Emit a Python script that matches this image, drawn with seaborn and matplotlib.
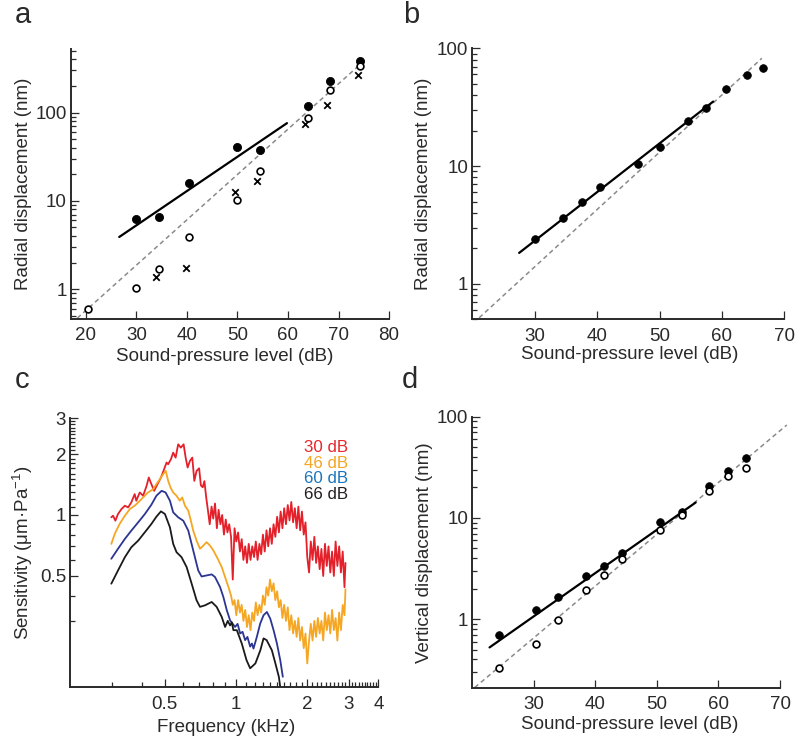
import numpy as np
import pandas as pd
import matplotlib
matplotlib.use('Agg')
import matplotlib.pyplot as plt
from matplotlib.ticker import FixedLocator, NullFormatter
import seaborn as sns

# ---------------- data ----------------
# panel a: radial displacement vs SPL
a_filled_spl = [30, 34.5, 40.5, 50, 54.5, 64, 68.3, 74.3]
a_filled_nm = [6.25, 6.6, 15.9, 40.9, 37.5, 117, 229, 385]
a_open_spl = [20.5, 29.9, 34.5, 40.5, 50, 54.4, 63.9, 68.3, 74.3]
a_open_nm = [0.6, 1.04, 1.68, 3.88, 10.3, 22, 86.5, 181, 332]
a_cross_spl = [33.8, 39.9, 49.5, 53.9, 63.3, 67.8, 73.8]
a_cross_nm = [1.37, 1.73, 12.7, 16.9, 74.5, 121, 265]
a_fit_spl = [26.6, 59.8]
a_fit_nm = [3.9, 75.8]
a_ref_spl = [18.3, 75.3]
a_ref_nm = [0.47, 395]

# panel b
b_spl = [30.1, 34.5, 37.5, 40.5, 46.5, 50.1, 54.5, 57.4, 60.6, 64.0, 66.6]
b_nm = [2.41, 3.62, 5.0, 6.6, 10.5, 14.6, 24.2, 31.2, 44.9, 59.7, 68.5]
b_fit_spl = [27.5, 58.6]
b_fit_nm = [1.83, 35.3]
b_ref_spl = [21.1, 66.4]
b_ref_nm = [0.515, 82.3]

# panel d: vertical displacement
d_spl = [24.4, 30.4, 34.0, 38.5, 41.4, 44.4, 50.5, 54.0, 58.5, 61.5, 64.5]
d_filled_nm = [0.69, 1.24, 1.65, 2.66, 3.38, 4.51, 9.06, 11.4, 20.8, 29.3, 38.8]
d_open_nm = [0.325, 0.567, 0.98, 1.95, 2.72, 3.96, 7.67, 10.6, 18.4, 26.0, 31.2]
d_fit_spl = [22.8, 56.3]
d_fit_nm = [0.525, 14.2]
d_ref_spl = [20.4, 71.1]
d_ref_nm = [0.211, 82.8]

# panel c: sensitivity spectra (kHz, um/Pa)
c30_f = [0.298, 0.303, 0.31, 0.318, 0.329, 0.34, 0.351, 0.362, 0.374, 0.38, 0.393, 0.406,
         0.42, 0.429, 0.44, 0.452, 0.467, 0.483, 0.498, 0.51, 0.518, 0.532, 0.544, 0.557,
         0.571, 0.586, 0.602, 0.614, 0.626, 0.64, 0.655, 0.668, 0.683,
         0.700, 0.712, 0.725, 0.737, 0.750, 0.763, 0.776, 0.790, 0.803, 0.817, 0.832, 0.846,
         0.861, 0.876, 0.891, 0.907, 0.922, 0.938, 0.955, 0.971, 0.988, 1.005, 1.023, 1.041,
         1.059, 1.077, 1.096, 1.115, 1.134, 1.154, 1.174, 1.194, 1.215, 1.236, 1.258, 1.280,
         1.302, 1.325, 1.348, 1.371, 1.395, 1.419, 1.444, 1.469, 1.495, 1.521, 1.547, 1.574,
         1.601, 1.629, 1.658, 1.686, 1.716, 1.746, 1.776, 1.807, 1.838, 1.870, 1.903, 1.936,
         1.970, 2.004, 2.039, 2.074, 2.110, 2.147, 2.184, 2.222, 2.261, 2.300, 2.340, 2.381,
         2.422, 2.464, 2.507, 2.551, 2.595, 2.640, 2.686, 2.733, 2.780, 2.829, 2.878, 2.906]
c30_s = [0.974, 0.992, 0.937, 1.011, 1.07, 1.111, 1.09, 1.154, 1.268, 1.176, 1.292, 1.244,
         1.393, 1.531, 1.42, 1.316, 1.42, 1.531, 1.683, 1.815, 1.78, 1.884, 2.032, 1.92,
         2.233, 2.15, 2.233, 1.92, 1.715, 1.849, 1.92, 1.474, 1.651,
         1.70, 1.40, 1.37, 1.47, 1.22, 1.05, 0.90, 1.10, 0.96, 1.14, 0.86, 1.06,
         0.90, 1.00, 0.80, 0.95, 0.82, 0.90, 0.78, 0.48, 0.86, 0.74, 0.82, 0.66,
         0.76, 0.60, 0.70, 0.58, 0.72, 0.60, 0.70, 0.62, 0.74, 0.60, 0.72, 0.64,
         0.80, 0.66, 0.84, 0.70, 0.86, 0.72, 0.90, 0.78, 0.98, 0.82, 1.04, 0.86,
         1.08, 0.90, 1.12, 0.94, 1.16, 0.92, 1.08, 0.86, 1.10, 0.84, 1.04, 0.80,
         0.92, 0.62, 0.52, 0.74, 0.60, 0.78, 0.58, 0.70, 0.54, 0.68, 0.50, 0.72,
         0.56, 0.70, 0.52, 0.66, 0.50, 0.74, 0.56, 0.70, 0.52, 0.66, 0.44, 0.58]

c46_f = [0.298, 0.308, 0.323, 0.34, 0.357, 0.374, 0.387, 0.406, 0.426, 0.448, 0.462, 0.478,
         0.493, 0.506, 0.518, 0.53, 0.544, 0.562, 0.58, 0.594, 0.61, 0.63, 0.646, 0.661,
         0.683, 0.706, 0.729, 0.753, 0.778, 0.804, 0.839, 0.872, 0.901, 0.931,
         0.955, 0.971, 0.988, 1.005, 1.023, 1.041, 1.059, 1.077, 1.096, 1.115, 1.134, 1.154,
         1.174, 1.194, 1.215, 1.236, 1.258, 1.280, 1.302, 1.325, 1.348, 1.371, 1.395, 1.419,
         1.444, 1.469, 1.495, 1.521, 1.547, 1.574, 1.601, 1.629, 1.658, 1.686, 1.716, 1.746,
         1.776, 1.807, 1.838, 1.870, 1.903, 1.936, 1.970, 2.004, 2.039, 2.074, 2.110, 2.147,
         2.184, 2.222, 2.261, 2.300, 2.340, 2.381, 2.422, 2.464, 2.507, 2.551, 2.595, 2.640,
         2.686, 2.733, 2.780, 2.829, 2.878, 2.906]
c46_s = [0.72, 0.806, 0.903, 0.992, 1.07, 1.111, 1.154, 1.221, 1.292, 1.341, 1.42, 1.502,
         1.59, 1.651, 1.474, 1.367, 1.292, 1.244, 1.176, 1.221, 1.111, 1.05, 0.937, 0.837,
         0.747, 0.681, 0.706, 0.734, 0.706, 0.668, 0.608, 0.553, 0.494, 0.441,
         0.40, 0.36, 0.38, 0.32, 0.38, 0.33, 0.36, 0.30, 0.34, 0.28, 0.32, 0.27,
         0.33, 0.30, 0.37, 0.32, 0.36, 0.33, 0.40, 0.36, 0.44, 0.40, 0.48, 0.42,
         0.46, 0.38, 0.42, 0.35, 0.38, 0.31, 0.36, 0.30, 0.35, 0.27, 0.32, 0.26,
         0.30, 0.25, 0.31, 0.24, 0.28, 0.22, 0.26, 0.185, 0.24, 0.29, 0.24, 0.30,
         0.25, 0.31, 0.26, 0.30, 0.24, 0.33, 0.27, 0.32, 0.26, 0.34, 0.27, 0.31,
         0.24, 0.33, 0.27, 0.36, 0.32, 0.43]

c60_f = [0.298, 0.318, 0.34, 0.362, 0.387, 0.413, 0.44, 0.462, 0.486, 0.505, 0.527, 0.544,
         0.571, 0.6, 0.63, 0.661, 0.694, 0.717, 0.753, 0.791, 0.817, 0.858, 0.886, 0.916,
         0.946, 0.971, 0.993, 1.018, 1.043, 1.068, 1.095, 1.12, 1.15, 1.17, 1.188, 1.227,
         1.268, 1.31, 1.353, 1.398, 1.444, 1.492, 1.541, 1.58]
c60_s = [0.608, 0.681, 0.762, 0.837, 0.92, 1.011, 1.124, 1.244, 1.316, 1.292, 1.176, 1.03,
         0.974, 0.937, 0.837, 0.668, 0.532, 0.497, 0.503, 0.509, 0.494, 0.441, 0.394, 0.339,
         0.302, 0.29, 0.28, 0.29, 0.26, 0.265, 0.241, 0.25, 0.224, 0.232, 0.219, 0.25,
         0.291, 0.32, 0.332, 0.308, 0.27, 0.232, 0.192, 0.159]

c66_f = [0.298, 0.318, 0.34, 0.362, 0.387, 0.413, 0.44, 0.462, 0.483, 0.502, 0.527, 0.544,
         0.562, 0.59, 0.62, 0.651, 0.683, 0.706, 0.741, 0.791, 0.83, 0.872, 0.901, 0.925,
         0.946, 0.962, 0.977, 1.01, 1.06, 1.11, 1.15, 1.21, 1.27, 1.31, 1.35, 1.42, 1.47,
         1.52, 1.54]
c66_s = [0.458, 0.532, 0.619, 0.693, 0.747, 0.822, 0.903, 0.981, 1.042, 1.011, 0.869, 0.72,
         0.655, 0.619, 0.553, 0.458, 0.379, 0.352, 0.358, 0.372, 0.352, 0.314, 0.28, 0.30,
         0.285, 0.295, 0.27, 0.27, 0.232, 0.192, 0.175, 0.185, 0.215, 0.246, 0.241, 0.215,
         0.185, 0.159, 0.142]

c_labels = ['30 dB', '46 dB', '60 dB', '66 dB']
c_line_colors = ['#e4202a', '#f5a623', '#2b3592', '#1a1a1a']
c_text_colors = ['#e8262b', '#f5a623', '#1b75bc', '#231f20']

# ---------------- style ----------------
sns.set_style('ticks', {'xtick.direction': 'in', 'ytick.direction': 'in'})
plt.rcParams['font.family'] = ['Liberation Sans', 'DejaVu Sans']
plt.rcParams['mathtext.fontset'] = 'custom'
plt.rcParams['mathtext.rm'] = 'Liberation Sans'
plt.rcParams['mathtext.it'] = 'Liberation Sans:italic'

FS = 13.5
INK = '#2a2a2a'

fig = plt.figure(figsize=(8, 7.42), dpi=100)
ax_a = fig.add_axes([0.0884, 0.5701, 0.3979, 0.3635])
ax_b = fig.add_axes([0.5904, 0.5697, 0.3900, 0.3652])
ax_c = fig.add_axes([0.0879, 0.0737, 0.3850, 0.3625])
ax_d = fig.add_axes([0.5904, 0.0732, 0.3846, 0.3652])


def style_axes(ax):
    sns.despine(ax=ax)
    for s in ['left', 'bottom']:
        ax.spines[s].set_linewidth(1.4)
        ax.spines[s].set_color(INK)
    ax.tick_params(which='both', direction='in', colors=INK, labelsize=FS, width=0.9)
    ax.tick_params(which='major', length=6)
    ax.tick_params(which='minor', length=3.5)
    ax.tick_params(axis='x', pad=6)
    ax.tick_params(axis='y', pad=3)


def fit_and_ref(ax, fx, fy, rx, ry):
    sns.lineplot(x=rx, y=ry, ax=ax, color='#8a8a8a', lw=1.1, linestyle=(0, (3, 2.2)),
                 estimator=None, sort=False, clip_on=False)
    sns.lineplot(x=fx, y=fy, ax=ax, color='black', lw=1.6, estimator=None, sort=False)


def disp_axes(ax, xlim, ylim, xticks, ylabel, lx, ly, yl_x):
    ax.set_xlim(*xlim)
    ax.set_ylim(*ylim)
    ax.set_xticks(xticks, [str(t) for t in xticks])
    ax.xaxis.set_minor_locator(FixedLocator([]))
    ax.set_yticks([1, 10, 100], ['1', '10', '100'])
    ax.yaxis.set_minor_formatter(NullFormatter())
    ax.set_xlabel('Sound-pressure level (dB)', fontsize=FS, color=INK)
    ax.set_ylabel(ylabel, fontsize=FS, color=INK)
    ax.xaxis.set_label_coords(lx, ly)
    ax.yaxis.set_label_coords(yl_x, 0.5)
    style_axes(ax)


# ---------------- panel a ----------------
ax_a.set_yscale('log')
fit_and_ref(ax_a, a_fit_spl, a_fit_nm, a_ref_spl, a_ref_nm)
sns.scatterplot(x=a_filled_spl, y=a_filled_nm, ax=ax_a, color='black', s=34,
                edgecolor='black', linewidth=0.6, zorder=3)
sns.scatterplot(x=a_open_spl, y=a_open_nm, ax=ax_a, facecolor='white', s=24,
                edgecolor='black', linewidth=1.2, zorder=3)
sns.scatterplot(x=a_cross_spl, y=a_cross_nm, ax=ax_a, marker='x', color='black', s=22,
                linewidth=1.3, zorder=3)
disp_axes(ax_a, (17, 80), (0.46, 520), [20, 30, 40, 50, 60, 70, 80],
          'Radial displacement (nm)', 0.485, -0.107, -0.122)

# ---------------- panel b ----------------
ax_b.set_yscale('log')
fit_and_ref(ax_b, b_fit_spl, b_fit_nm, b_ref_spl, b_ref_nm)
sns.scatterplot(x=b_spl, y=b_nm, ax=ax_b, color='black', s=30,
                edgecolor='black', linewidth=0.6, zorder=3)
disp_axes(ax_b, (20, 70), (0.5, 100), [30, 40, 50, 60, 70],
          'Radial displacement (nm)', 0.503, -0.099, -0.128)

# ---------------- panel d ----------------
ax_d.set_yscale('log')
fit_and_ref(ax_d, d_fit_spl, d_fit_nm, d_ref_spl, d_ref_nm)
sns.scatterplot(x=d_spl, y=d_filled_nm, ax=ax_d, color='black', s=30,
                edgecolor='black', linewidth=0.6, zorder=3)
sns.scatterplot(x=d_spl, y=d_open_nm, ax=ax_d, facecolor='white', s=24,
                edgecolor='black', linewidth=1.2, zorder=3)
disp_axes(ax_d, (20, 70), (0.21, 100), [30, 40, 50, 60, 70],
          'Vertical displacement (nm)', 0.51, -0.103, -0.127)

# ---------------- panel c ----------------
ax_c.set_xscale('log')
ax_c.set_yscale('log')
curves = [(c30_f, c30_s), (c46_f, c46_s), (c60_f, c60_s), (c66_f, c66_s)]
for (f, s), col in zip(curves, c_line_colors):
    sns.lineplot(x=f, y=s, ax=ax_c, color=col, lw=1.3, estimator=None, sort=False)
ax_c.set_xlim(0.2, 4)
ax_c.set_ylim(0.141, 3.0)
ax_c.set_xticks([0.5, 1, 2, 3, 4], ['0.5', '1', '2', '3', '4'])
ax_c.xaxis.set_minor_locator(FixedLocator(
    [0.3, 0.4, 0.6, 0.7, 0.8, 0.9] + [1 + 0.1 * i for i in range(1, 10)]
    + [2 + 0.1 * i for i in range(1, 10)] + [3 + 0.1 * i for i in range(1, 10)]))
ax_c.xaxis.set_minor_formatter(NullFormatter())
ax_c.set_yticks([0.5, 1, 2, 3], ['0.5', '1', '2', '3'])
ax_c.yaxis.set_minor_locator(FixedLocator(
    [0.3, 0.4, 0.6, 0.7, 0.8, 0.9] + [1 + 0.1 * i for i in range(1, 10)]
    + [2 + 0.1 * i for i in range(1, 10)]))
ax_c.yaxis.set_minor_formatter(NullFormatter())
ax_c.set_xlabel('Frequency (kHz)', fontsize=FS, color=INK)
ax_c.set_ylabel('Sensitivity (\u03bcm\u00b7Pa$^{-1}$)', fontsize=FS, color=INK)
ax_c.xaxis.set_label_coords(0.505, -0.116)
ax_c.yaxis.set_label_coords(-0.115, 0.5)
style_axes(ax_c)

for lab, col, yy in zip(c_labels, c_text_colors, [0.8758, 0.8164, 0.7584, 0.6989]):
    ax_c.text(0.9016, yy, lab, transform=ax_c.transAxes, ha='right', va='baseline',
              fontsize=12.2, color=col)

# ---------------- panel letters ----------------
for letter, (px, py) in zip('abcd', [(15, 23.3), (403, 23.3), (15, 388.3), (402, 388.3)]):
    fig.text(px / 800, 1 - py / 742, letter, fontsize=21, color=INK,
             ha='left', va='baseline')

fig.savefig('out.png', dpi=100)
